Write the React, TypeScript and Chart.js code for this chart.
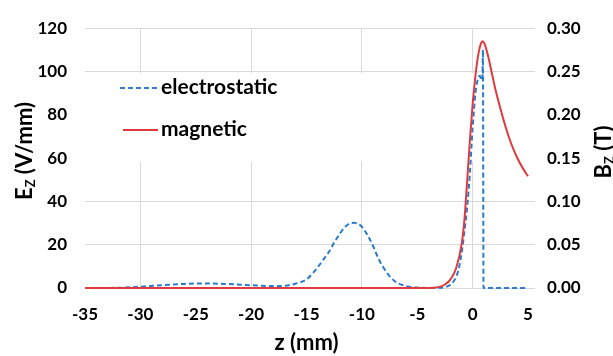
import React, { useEffect, useRef } from "react";
import { Chart, registerables } from "chart.js";

Chart.register(...registerables);

// electrostatic field E_z (V/mm) vs z (mm)
const zElectro = [-35, -32, -30, -28, -26, -25, -24, -22, -20, -18, -17, -16, -15, -14, -13.5, -13, -12.5, -12, -11.5, -11, -10.7, -10.3, -10, -9.5, -9, -8.5, -8, -7.5, -7, -6.5, -6, -5.5, -5, -4, -3, -2.5, -2, -1.5, -1.25, -1, -0.75, -0.5, -0.25, 0, 0.25, 0.5, 0.65, 0.8, 0.88, 0.93, 0.98, 1.5, 5];
const eElectro = [0, 0.1, 0.6, 1.3, 1.9, 2.1, 2.1, 1.8, 1.3, 0.9, 1.0, 2.0, 4.0, 9.5, 13, 16.5, 21, 25, 28.3, 30, 30.1, 29.5, 28.3, 24.5, 19.5, 13.5, 9, 5.5, 3, 1.7, 0.9, 0.4, 0.2, 0.05, 0.1, 0.4, 1.5, 5, 9, 16, 26, 37, 53, 74, 90, 97, 98, 96, 97, 110, 0, 0, 0];

// magnetic field B_z (T) vs z (mm)
const zMagnetic = [-35, -20, -5, -3.5, -3, -2.5, -2, -1.5, -1, -0.75, -0.5, -0.25, 0, 0.25, 0.5, 0.75, 0.9, 1.1, 1.4, 1.7, 2, 2.5, 3, 3.5, 4, 4.5, 5];
const bMagnetic = [0, 0, 0, 0.0003, 0.0013, 0.004, 0.01, 0.0225, 0.05, 0.0775, 0.1225, 0.17, 0.2125, 0.245, 0.269, 0.2825, 0.285, 0.281, 0.2675, 0.25, 0.2325, 0.2075, 0.185, 0.166, 0.151, 0.139, 0.129];

const xTickValues = [-35, -30, -25, -20, -15, -10, -5, 0, 5];
const xGridValues = [-30, -20, -10, 0];

const seriesNames = ["electrostatic", "magnetic"];
const BLUE = "#2a7bcb";
const RED = "#e0393e";
const FONT = "Lato, 'Open Sans', sans-serif";

function drawSubText(ctx: CanvasRenderingContext2D, main: string, sub: string, rest: string, cx: number, cy: number, rotate: boolean) {
  ctx.save();
  ctx.translate(cx, cy);
  if (rotate) ctx.rotate(-Math.PI / 2);
  const big = `bold 22px ${FONT}`;
  const small = `bold 13px ${FONT}`;
  ctx.font = big;
  const w1 = ctx.measureText(main).width;
  const w3 = ctx.measureText(rest).width;
  ctx.font = small;
  const w2 = ctx.measureText(sub).width;
  const total = w1 + w2 + w3;
  let x = -total / 2;
  ctx.fillStyle = "#000";
  ctx.textBaseline = "middle";
  ctx.textAlign = "left";
  ctx.font = big;
  ctx.fillText(main, x, 0);
  x += w1;
  ctx.font = small;
  ctx.fillText(sub, x, 6);
  x += w2;
  ctx.font = big;
  ctx.fillText(rest, x, 0);
  ctx.restore();
}

const overlayPlugin = {
  id: "overlay",
  beforeDatasetsDraw(chart: any) {
    const { ctx, chartArea } = chart;
    const y = chart.scales.y;
    const top = y.getPixelForValue(99.2);
    const bottom = y.getPixelForValue(58.6);
    ctx.save();
    ctx.fillStyle = "#ffffff";
    ctx.fillRect(chartArea.left, top, chartArea.right - chartArea.left, bottom - top);
    ctx.restore();
  },
  afterDraw(chart: any) {
    const { ctx, chartArea } = chart;
    // legend
    const items = [
      { label: seriesNames[0], color: BLUE, dash: [5, 3], x0: 120, y: 88 },
      { label: seriesNames[1], color: RED, dash: [], x0: 123, y: 130 },
    ];
    ctx.save();
    for (const it of items) {
      ctx.beginPath();
      ctx.setLineDash(it.dash);
      ctx.strokeStyle = it.color;
      ctx.lineWidth = 2;
      ctx.moveTo(it.x0, it.y);
      ctx.lineTo(158, it.y);
      ctx.stroke();
      ctx.setLineDash([]);
      ctx.fillStyle = "#000";
      ctx.font = `bold 21px ${FONT}`;
      ctx.textBaseline = "middle";
      ctx.textAlign = "left";
      ctx.fillText(it.label, 161, it.y - 1);
    }
    ctx.restore();
    // axis titles
    const cx = (chartArea.left + chart.scales.x.getPixelForValue(5)) / 2;
    ctx.save();
    ctx.font = `bold 22px ${FONT}`;
    ctx.fillStyle = "#000";
    ctx.textAlign = "center";
    ctx.textBaseline = "middle";
    ctx.fillText("z (mm)", cx, 343);
    ctx.restore();
    drawSubText(ctx, "E", "Z", " (V/mm)", 25, 151, true);
    drawSubText(ctx, "B", "Z", " (T)", 604, 152, true);
  },
};

export default function App() {
  const ref = useRef<HTMLCanvasElement | null>(null);
  useEffect(() => {
    document.body.style.margin = "0";
    const canvas = ref.current!;
    const tickFont = { family: FONT, size: 17, weight: "bold" as const };
    const chart = new Chart(canvas, {
      type: "line",
      data: {
        datasets: [
          {
            label: seriesNames[0],
            data: zElectro.map((z, i) => ({ x: z, y: eElectro[i] })),
            borderColor: BLUE,
            borderWidth: 2,
            borderDash: [5, 3],
            pointRadius: 0,
            cubicInterpolationMode: "monotone",
            yAxisID: "y",
            clip: 6,
            order: 2,
          },
          {
            label: seriesNames[1],
            data: zMagnetic.map((z, i) => ({ x: z, y: bMagnetic[i] })),
            borderColor: RED,
            borderWidth: 2,
            pointRadius: 0,
            cubicInterpolationMode: "monotone",
            yAxisID: "y2",
            clip: 6,
            order: 1,
          },
        ],
      },
      options: {
        responsive: false,
        animation: false,
        devicePixelRatio: 1,
        layout: { padding: { top: 20, left: 0, right: 0, bottom: 0 } },
        plugins: { legend: { display: false }, tooltip: { enabled: false } },
        scales: {
          x: {
            type: "linear",
            min: -35,
            max: 5.63,
            afterBuildTicks: (s: any) => {
              s.ticks = xTickValues.map((v) => ({ value: v }));
            },
            afterFit: (s: any) => {
              s.height = 68;
            },
            grid: {
              drawTicks: false,
              color: (c: any) => (c.tick && xGridValues.includes(c.tick.value) ? "#d9d9d9" : "rgba(0,0,0,0)"),
            },
            border: { display: false },
            ticks: {
              autoSkip: false,
              maxRotation: 0,
              padding: 16,
              color: "#000",
              font: tickFont,
              callback: (v: any) => String(v),
            },
          },
          y: {
            position: "left",
            min: 0,
            max: 120,
            afterFit: (s: any) => {
              s.width = 85;
            },
            grid: { drawTicks: false, color: "#d9d9d9" },
            border: { display: false },
            ticks: { stepSize: 20, padding: 18, color: "#000", font: tickFont },
          },
          y2: {
            position: "right",
            min: 0,
            max: 0.3,
            afterFit: (s: any) => {
              s.width = 78;
            },
            grid: { display: false, drawTicks: false },
            border: { display: false },
            ticks: {
              stepSize: 0.05,
              padding: 12,
              color: "#000",
              font: tickFont,
              callback: (v: any) => Number(v).toFixed(2),
            },
          },
        },
      },
      plugins: [overlayPlugin],
    });
    return () => chart.destroy();
  }, []);
  return <canvas ref={ref} width={613} height={356} style={{ display: "block", width: 613, height: 356 }} />;
}
